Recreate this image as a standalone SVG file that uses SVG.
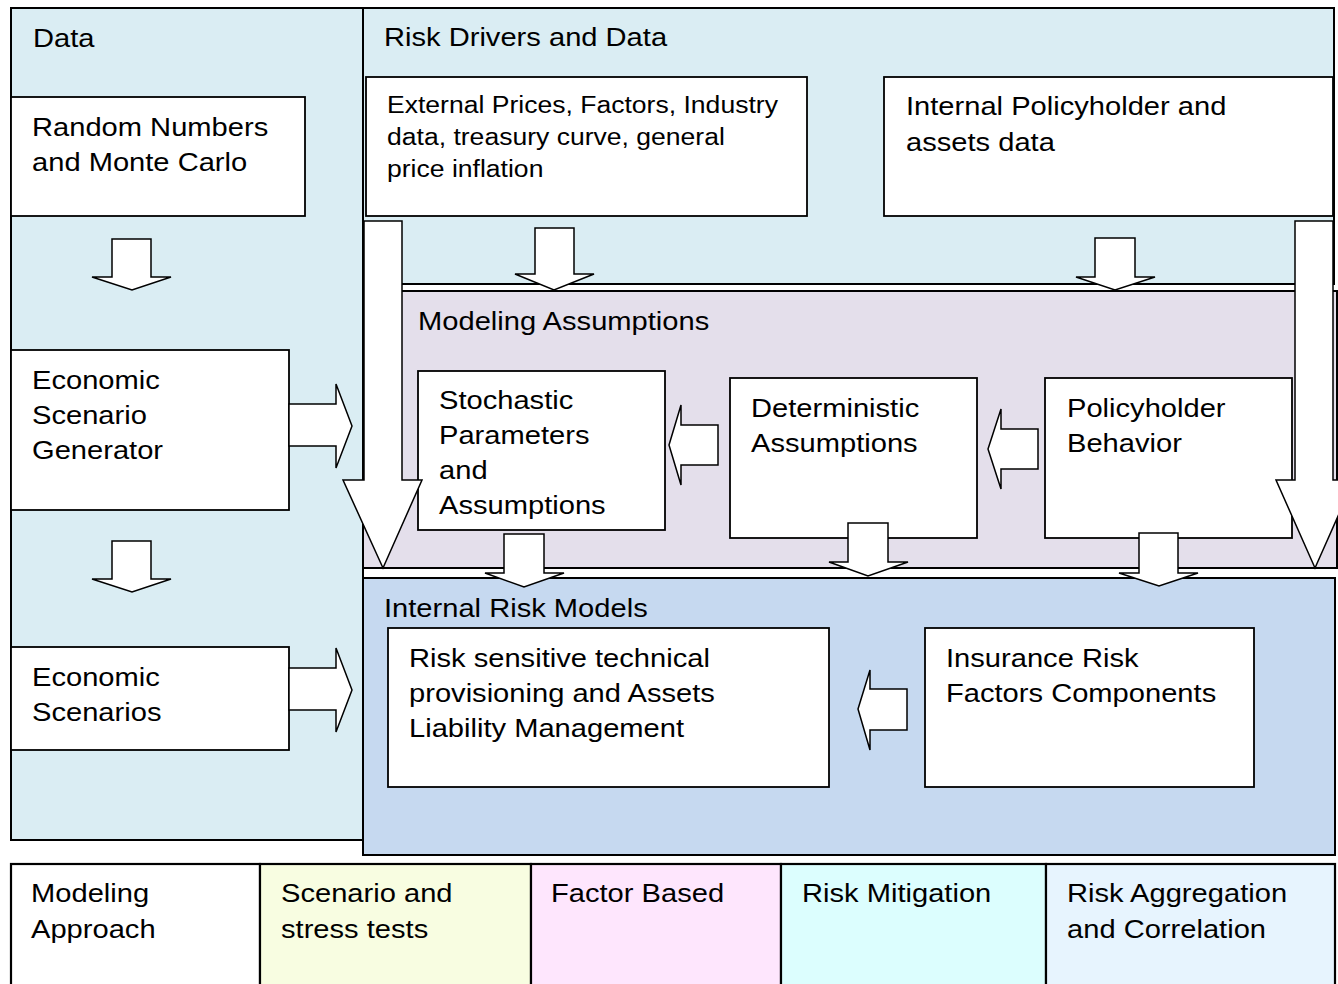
<svg xmlns="http://www.w3.org/2000/svg" width="1338" height="984" viewBox="0 0 1338 984">
<style>
.t{font-family:"Liberation Sans",Arial,sans-serif;font-size:26px;fill:#000}
.ts{font-family:"Liberation Sans",Arial,sans-serif;font-size:23.5px;fill:#000}
.panel{stroke:#000;stroke-width:2}
.box{fill:#fff;stroke:#000;stroke-width:1.8}
.arrow{fill:#fff;stroke:#000;stroke-width:1.5;stroke-linejoin:miter}
.cell{stroke:#000;stroke-width:2.2}
</style>
<rect width="1338" height="984" fill="#fff"/>

<g id="panel-data">
<rect class="panel" x="11" y="8" width="352" height="832" fill="#daedf3"/>
<text class="t" transform="translate(33,47) scale(1.12,1)"><tspan x="0" y="0">Data</tspan></text>
</g>
<g id="panel-risk-drivers">
<rect class="panel" x="363" y="8" width="971" height="276" fill="#daedf3"/>
<text class="t" transform="translate(384,46) scale(1.12,1)"><tspan x="0" y="0">Risk Drivers and Data</tspan></text>
</g>
<g id="panel-modeling">
<rect class="panel" x="363" y="291" width="974" height="277" fill="#e4dfeb"/>
<text class="t" transform="translate(418,330) scale(1.12,1)"><tspan x="0" y="0">Modeling Assumptions</tspan></text>
</g>
<g id="panel-internal-risk">
<rect class="panel" x="363" y="578" width="972" height="277" fill="#c6d9f0"/>
<text class="t" transform="translate(384,617) scale(1.12,1)"><tspan x="0" y="0">Internal Risk Models</tspan></text>
</g>

<g id="node-random">
<rect class="box" x="11" y="97" width="294" height="119"/>
<text class="t" transform="translate(32,136) scale(1.12,1)"><tspan x="0" y="0">Random Numbers</tspan><tspan x="0" y="35">and Monte Carlo</tspan></text>
</g>
<g id="node-esg">
<rect class="box" x="11" y="350" width="278" height="160"/>
<text class="t" transform="translate(32,389) scale(1.12,1)"><tspan x="0" y="0">Economic</tspan><tspan x="0" y="35">Scenario</tspan><tspan x="0" y="70">Generator</tspan></text>
</g>
<g id="node-scenarios">
<rect class="box" x="11" y="647" width="278" height="103"/>
<text class="t" transform="translate(32,686) scale(1.12,1)"><tspan x="0" y="0">Economic</tspan><tspan x="0" y="35">Scenarios</tspan></text>
</g>
<g id="node-external">
<rect class="box" x="366" y="77" width="441" height="139"/>
<text class="ts" transform="translate(387,113) scale(1.13,1)"><tspan x="0" y="0">External Prices, Factors, Industry</tspan><tspan x="0" y="32">data, treasury curve, general</tspan><tspan x="0" y="64">price inflation</tspan></text>
</g>
<g id="node-internal-data">
<rect class="box" x="884" y="77" width="449" height="139"/>
<text class="t" transform="translate(906,115) scale(1.12,1)"><tspan x="0" y="0">Internal Policyholder and</tspan><tspan x="0" y="36">assets data</tspan></text>
</g>
<g id="node-stochastic">
<rect class="box" x="418" y="371" width="247" height="159"/>
<text class="t" transform="translate(439,409) scale(1.12,1)"><tspan x="0" y="0">Stochastic</tspan><tspan x="0" y="35">Parameters</tspan><tspan x="0" y="70">and</tspan><tspan x="0" y="105">Assumptions</tspan></text>
</g>
<g id="node-deterministic">
<rect class="box" x="730" y="378" width="247" height="160"/>
<text class="t" transform="translate(751,417) scale(1.12,1)"><tspan x="0" y="0">Deterministic</tspan><tspan x="0" y="35">Assumptions</tspan></text>
</g>
<g id="node-policyholder">
<rect class="box" x="1045" y="378" width="247" height="160"/>
<text class="t" transform="translate(1067,417) scale(1.12,1)"><tspan x="0" y="0">Policyholder</tspan><tspan x="0" y="35">Behavior</tspan></text>
</g>
<g id="node-risk-sensitive">
<rect class="box" x="388" y="628" width="441" height="159"/>
<text class="t" transform="translate(409,667) scale(1.12,1)"><tspan x="0" y="0">Risk sensitive technical</tspan><tspan x="0" y="35">provisioning and Assets</tspan><tspan x="0" y="70">Liability Management</tspan></text>
</g>
<g id="node-insurance">
<rect class="box" x="925" y="628" width="329" height="159"/>
<text class="t" transform="translate(946,667) scale(1.12,1)"><tspan x="0" y="0">Insurance Risk</tspan><tspan x="0" y="35">Factors Components</tspan></text>
</g>

<g id="connectors">
<polygon class="arrow" points="112,239 151,239 151,277 171,277 132,290 92,277 112,277"/>
<polygon class="arrow" points="112,541 151,541 151,579 171,579 132,592 92,579 112,579"/>
<polygon class="arrow" points="289,404 336,404 336,384 352,426 336,468 336,446 289,446"/>
<polygon class="arrow" points="289,668 336,668 336,648 352,690 336,732 336,710 289,710"/>
<polygon class="arrow" points="535,228 574,228 574,274 594,274 554,290 515,274 535,274"/>
<polygon class="arrow" points="1095,238 1135,238 1135,277 1155,277 1115,290 1076,277 1095,277"/>
<polygon class="arrow" points="718,425 718,465 681,465 681,485 669,445 681,405 681,425"/>
<polygon class="arrow" points="1038,429 1038,469 1001,469 1001,489 988,449 1001,409 1001,429"/>
<polygon class="arrow" points="504,534 544,534 544,573 564,573 524,587 485,573 504,573"/>
<polygon class="arrow" points="848,523 888,523 888,562 908,562 868,576 829,562 848,562"/>
<polygon class="arrow" points="1139,533 1178,533 1178,573 1198,573 1159,586 1119,573 1139,573"/>
<polygon class="arrow" points="907,689 907,730 870,730 870,750 858,709 870,670 870,689"/>
<polygon class="arrow" points="364,221 402,221 402,480 422,480 383,568 343,480 364,480"/>
<polygon class="arrow" points="1295,221 1333,221 1333,480 1354,480 1315,568 1276,480 1295,480"/>
</g>

<g id="legend-row">
<g id="cell-modeling-approach">
<rect class="cell" x="11" y="864" width="249" height="130" fill="#ffffff"/>
<text class="t" transform="translate(31,902) scale(1.12,1)"><tspan x="0" y="0">Modeling</tspan><tspan x="0" y="36">Approach</tspan></text>
</g>
<g id="cell-scenario">
<rect class="cell" x="260" y="864" width="271" height="130" fill="#f8fde1"/>
<text class="t" transform="translate(281,902) scale(1.12,1)"><tspan x="0" y="0">Scenario and</tspan><tspan x="0" y="36">stress tests</tspan></text>
</g>
<g id="cell-factor">
<rect class="cell" x="531" y="864" width="250" height="130" fill="#fee6fd"/>
<text class="t" transform="translate(551,902) scale(1.12,1)"><tspan x="0" y="0">Factor Based</tspan></text>
</g>
<g id="cell-mitigation">
<rect class="cell" x="781" y="864" width="265" height="130" fill="#dcfefe"/>
<text class="t" transform="translate(802,902) scale(1.12,1)"><tspan x="0" y="0">Risk Mitigation</tspan></text>
</g>
<g id="cell-aggregation">
<rect class="cell" x="1046" y="864" width="289" height="130" fill="#e7f4fe"/>
<text class="t" transform="translate(1067,902) scale(1.12,1)"><tspan x="0" y="0">Risk Aggregation</tspan><tspan x="0" y="36">and Correlation</tspan></text>
</g>
</g>
</svg>
